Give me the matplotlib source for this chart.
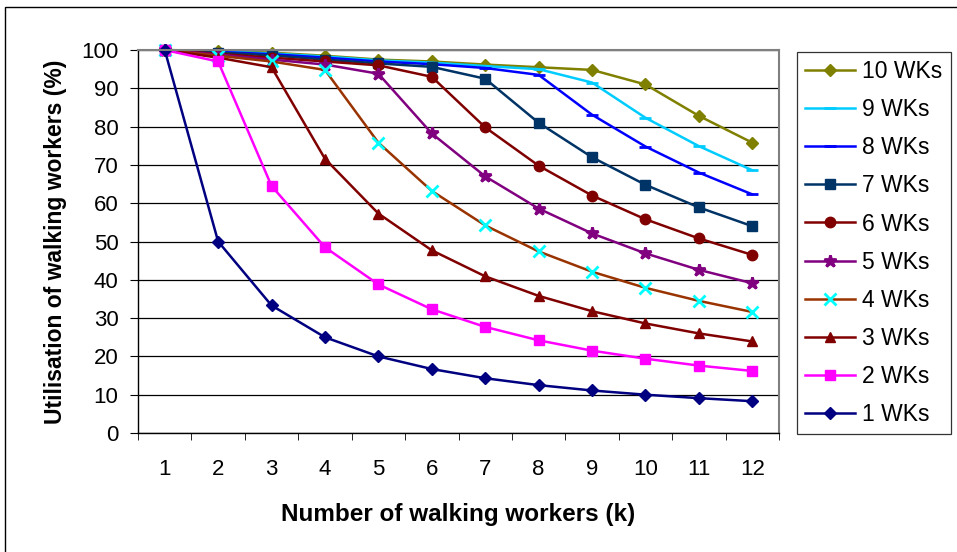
import matplotlib
matplotlib.use('Agg')
import matplotlib.pyplot as plt
from matplotlib.patches import Rectangle

plt.rcParams['font.family'] = ['Liberation Sans', 'DejaVu Sans']

k = [1, 2, 3, 4, 5, 6, 7, 8, 9, 10, 11, 12]

# utilisation (%) for each number of walking workers
wk10 = [100, 99.7, 99.3, 98.5, 97.5, 97.0, 96.2, 95.5, 94.8, 91.0, 82.8, 75.8]
wk9 = [100, 99.6, 99.1, 98.3, 97.3, 96.7, 95.8, 95.0, 91.5, 82.3, 74.9, 68.6]
wk8 = [100, 99.5, 98.9, 98.0, 97.0, 96.3, 95.3, 93.5, 83.1, 74.8, 68.0, 62.3]
wk7 = [100, 99.3, 98.6, 97.5, 96.5, 95.6, 92.5, 81.0, 72.0, 64.8, 58.9, 54.0]
wk6 = [100, 99.0, 98.0, 97.0, 96.0, 93.0, 79.8, 69.8, 62.0, 55.8, 50.8, 46.5]
wk5 = [100, 98.8, 97.5, 96.2, 93.8, 78.2, 67.0, 58.6, 52.1, 46.9, 42.6, 39.1]
wk4 = [100, 98.5, 97.0, 94.8, 75.8, 63.2, 54.2, 47.4, 42.1, 37.9, 34.5, 31.6]
wk3 = [100, 98.0, 95.5, 71.6, 57.3, 47.7, 40.9, 35.8, 31.8, 28.6, 26.0, 23.9]
wk2 = [100, 97.0, 64.5, 48.5, 38.8, 32.3, 27.7, 24.2, 21.5, 19.4, 17.6, 16.2]
wk1 = [100, 50.0, 33.3, 25.0, 20.0, 16.7, 14.3, 12.5, 11.1, 10.0, 9.1, 8.3]

labels = ['10 WKs', '9 WKs', '8 WKs', '7 WKs', '6 WKs',
          '5 WKs', '4 WKs', '3 WKs', '2 WKs', '1 WKs']
series = [wk10, wk9, wk8, wk7, wk6, wk5, wk4, wk3, wk2, wk1]

# line colour, marker, marker colour, marker size
styles = [
    ('#808000', 'D', '#808000', 6.5),
    ('#00CCFF', '_', '#00CCFF', 9),
    ('#0000FF', '_', '#0000FF', 9),
    ('#003366', 's', '#003366', 7.5),
    ('#800000', 'o', '#800000', 7.5),
    ('#800080', '*', '#800080', 9),
    ('#993300', 'x', '#00FFFF', 8),
    ('#800000', '^', '#800000', 7.5),
    ('#FF00FF', 's', '#FF00FF', 7.5),
    ('#000080', 'D', '#000080', 6.5),
]

fig = plt.figure(figsize=(9.57, 5.52), dpi=100)
ax = fig.add_axes([138/957, 1-433/552, (779-138)/957, (433-50)/552])

for vals, lab, (lc, m, mc, ms) in zip(series, labels, styles):
    ax.plot(k, vals, color=lc, lw=1.8, marker=m, markersize=ms,
            markerfacecolor=mc, markeredgecolor=mc, markeredgewidth=2 if m in 'x_*' else 1,
            label=lab, clip_on=False)

ax.set_xlim(0.5, 12.5)
ax.set_ylim(0, 100)
ax.set_yticks(range(0, 101, 10))
ax.set_xticks(k)
ax.set_xticks([i + 0.5 for i in range(0, 13)], minor=True)
ax.tick_params(axis='x', which='major', length=0, pad=19, labelsize=16)
ax.tick_params(axis='x', which='minor', length=5, direction='out')
ax.tick_params(axis='y', length=6, direction='out', labelsize=16, pad=8)
ax.yaxis.grid(True, color='black', lw=0.9)
ax.set_axisbelow(True)

for s in ['top', 'right']:
    ax.spines[s].set_color('#808080')
    ax.spines[s].set_linewidth(1.5)
for s in ['left', 'bottom']:
    ax.spines[s].set_color('black')
    ax.spines[s].set_linewidth(1.0)

ax.set_xlabel('Number of walking workers (k)', fontsize=17.5, fontweight='bold', labelpad=16)
ax.set_ylabel('Utilisation of walking workers (%)', fontsize=16.5, fontweight='bold', labelpad=10)

leg = fig.legend(loc='upper left', bbox_to_anchor=(797/957, 1-52/552), borderaxespad=0,
                 fontsize=16.5, frameon=True, fancybox=False, labelspacing=0.66,
                 handlelength=2.2, handletextpad=0.3, borderpad=0.35)
leg.get_frame().set_edgecolor('black')
leg.get_frame().set_linewidth(0.9)

fig.patches.append(Rectangle((5/957, -0.1), 1.2, 1-7/552+0.1, transform=fig.transFigure,
                             fill=False, edgecolor='black', lw=1.0))

fig.savefig('out.png', dpi=100)
